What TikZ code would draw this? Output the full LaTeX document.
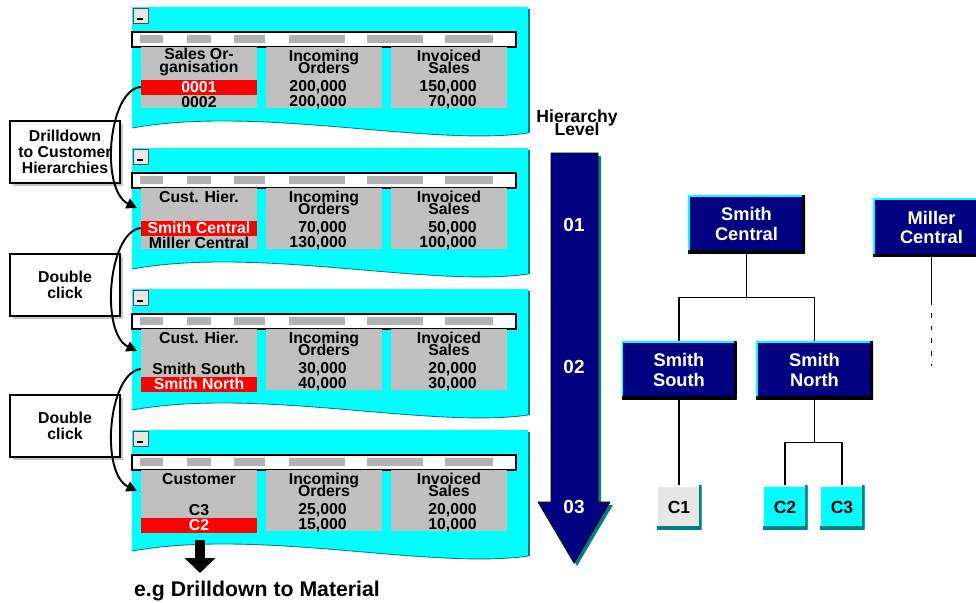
\documentclass[tikz,border=0pt]{standalone}
\usepackage{fontspec}
\setmainfont{Liberation Sans}
\usetikzlibrary{arrows.meta,shadows}

\definecolor{panelcyan}{HTML}{00FFFF}
\definecolor{levelnavy}{HTML}{000080}
\definecolor{shadeteal}{HTML}{008080}
\definecolor{colgray}{HTML}{C0C0C0}
\definecolor{dashgray}{HTML}{B2B2B2}
\definecolor{cellred}{HTML}{FF0000}
\definecolor{leafgray}{HTML}{E6E6E6}

\protected\def\tightlead{\lineskiplimit=-100pt\relax}

\tikzset{
  txt/.style={font=\bfseries\fontsize{9}{7.2}\selectfont\tightlead, inner sep=0pt, align=center},
  row/.style={txt, minimum width=2.32cm, minimum height=0.3cm},
  hot/.style={row, fill=cellred, text=white},
  val/.style={txt, anchor=east},
  note/.style={draw, line width=0.8pt, fill=white, minimum width=2.2cm, minimum height=1.24cm,
    align=center, inner sep=0pt, font=\bfseries\fontsize{9}{9}\selectfont,
    drop shadow={shadow xshift=1.5pt, shadow yshift=-1.5pt, fill=gray!45, opacity=1}},
  jump/.style={line width=1.1pt, -{Triangle[length=6pt,width=6pt]}},
  lvl/.style={text=white, font=\bfseries\fontsize{10.8}{12}\selectfont, inner sep=0pt},
  tree/.style={fill=levelnavy, text=white, font=\bfseries\fontsize{10.4}{11.3}\selectfont,
    align=center, minimum width=2.34cm, minimum height=1.16cm, inner sep=0pt,
    path picture={
      \draw[panelcyan, line width=2pt] (path picture bounding box.south west) |- (path picture bounding box.north east);
      \draw[black, line width=3pt] (path picture bounding box.south west) -| (path picture bounding box.north east);
    }},
  leaf/.style={font=\bfseries\fontsize{10}{12}\selectfont, minimum width=0.9cm, minimum height=0.88cm, inner sep=0pt,
    path picture={
      \draw[white, line width=2pt] (path picture bounding box.south west) |- (path picture bounding box.north east);
      \draw[shadeteal, line width=3pt] (path picture bounding box.south west) -| (path picture bounding box.north east);
    }},
  link/.style={line width=0.85pt},
  dotline/.style={line width=0.85pt, dash pattern=on 2.8pt off 4.5pt},
}

\begin{document}
\begin{tikzpicture}[x=0.02cm,y=-0.02cm]
\clip (0,0) rectangle (976,602);

\foreach \t in {7,148,289,430}{
  \fill[panelcyan] (132,\t) -- (528,\t) -- (528,\t+126) .. controls (430,\t+140) and (260,\t+98) .. (132,\t+121) -- cycle;
  \draw[shadeteal, line width=0.5pt] (528,\t+126) .. controls (430,\t+140) and (260,\t+98) .. (132,\t+121);
  \draw[shadeteal, line width=1.2pt] (529,\t+2) -- (529,\t+126);
  \filldraw[fill=leafgray, draw=black!70, line width=0.4pt] (133,\t+1) rectangle (148,\t+16);
  \draw[line width=0.6pt] (137,\t+12) -- (143,\t+12);
  \filldraw[fill=white, line width=0.9pt] (132,\t+25) rectangle (516,\t+40);
  \foreach \a/\b in {140/163,187/211,234/265,289/345,367/423,445/493}
    \fill[dashgray] (\a,\t+28) rectangle (\b,\t+36);
  \foreach \a in {141,266,391}
    \fill[colgray] (\a,\t+40) rectangle (\a+116,\t+101);
}

\node[txt] (h11) at (199,62) {Sales Or-\\ganisation};
\node[txt] (h12) at (324,62) {Incoming\\Orders};
\node[txt] (h13) at (449,62) {Invoiced\\Sales};
\node[hot] (r11) at (199,87) {0001};
\node[row] (r12) at (199,102) {0002};
\node[val] (v11) at (347,87) {200,000};
\node[val] (v12) at (347,102) {200,000};
\node[val] (w11) at (477,87) {150,000};
\node[val] (w12) at (477,102) {70,000};

\node[txt] (h21) at (199,197) {Cust. Hier.};
\node[txt] (h22) at (324,203) {Incoming\\Orders};
\node[txt] (h23) at (449,203) {Invoiced\\Sales};
\node[hot] (r21) at (199,228) {Smith Central};
\node[row] (r22) at (199,243) {Miller Central};
\node[val] (v21) at (347,228) {70,000};
\node[val] (v22) at (347,243) {130,000};
\node[val] (w21) at (477,228) {50,000};
\node[val] (w22) at (477,243) {100,000};

\node[txt] (h31) at (199,338) {Cust. Hier.};
\node[txt] (h32) at (324,344) {Incoming\\Orders};
\node[txt] (h33) at (449,344) {Invoiced\\Sales};
\node[row] (r31) at (199,369) {Smith South};
\node[hot] (r32) at (199,384) {Smith North};
\node[val] (v31) at (347,369) {30,000};
\node[val] (v32) at (347,384) {40,000};
\node[val] (w31) at (477,369) {20,000};
\node[val] (w32) at (477,384) {30,000};

\node[txt] (h41) at (199,479) {Customer};
\node[txt] (h42) at (324,485) {Incoming\\Orders};
\node[txt] (h43) at (449,485) {Invoiced\\Sales};
\node[row] (r41) at (199,510) {C3};
\node[hot] (r42) at (199,525) {C2};
\node[val] (v41) at (347,510) {25,000};
\node[val] (v42) at (347,525) {15,000};
\node[val] (w41) at (477,510) {20,000};
\node[val] (w42) at (477,525) {10,000};

\node[note] (n1) at (65,152) {Drilldown\\to Customer\\Hierarchies};
\node[note] (n2) at (65,285) {Double\\click};
\node[note] (n3) at (65,426) {Double\\click};

\coordinate (in2) at (137,208);
\coordinate (in3) at (137,351);
\coordinate (in4) at (137,491);
\draw[jump] (r11.west) .. controls (108,90) and (100,190) .. (in2);
\draw[jump] (r21.west) .. controls (108,232) and (100,333) .. (in3);
\draw[jump] (r31.west) .. controls (108,373) and (100,473) .. (in4);

\coordinate (dn1) at (200,540);
\coordinate (dn2) at (200,573);
\node[font=\bfseries\fontsize{12.1}{14}\selectfont, inner sep=0pt] (mat) at (257,591) {e.g Drilldown to Material};
\draw[line width=5.6pt, -{Triangle[length=8.5pt,width=17pt]}] (dn1) -- (dn2);

\node[font=\bfseries\fontsize{10}{7.5}\selectfont\tightlead, align=center, inner sep=0pt] (hl) at (577,123) {Hierarchy\\Level};
\fill[shadeteal] (554,156) -- (601,156) -- (601,505) -- (613,505) -- (577,566) -- (541,505) -- (554,505) -- cycle;
\filldraw[fill=levelnavy, draw=black, line width=0.4pt] (551,153) -- (598,153) -- (598,502) -- (610,502) -- (574,563) -- (538,502) -- (551,502) -- cycle;
\node[lvl] (l1) at (574,225) {01};
\node[lvl] (l2) at (574,367) {02};
\node[lvl] (l3) at (574,507) {03};

\node[tree] (sc) at (746.5,224) {Smith\\Central};
\node[tree] (mc) at (931.5,227.5) {Miller\\Central};
\node[tree, minimum width=2.3cm] (ss) at (679,370) {Smith\\South};
\node[tree] (sn) at (814.5,370) {Smith\\North};
\node[leaf, fill=leafgray] (c1) at (679,507) {C1};
\node[leaf, fill=panelcyan] (c2) at (785,507) {C2};
\node[leaf, fill=panelcyan] (c3) at (842,507) {C3};

\draw[link] (sc.south) -- ++(0,44) coordinate (j1);
\draw[link] (ss.north) |- (j1) -| (sn.north);
\draw[link] (ss.south) -- (c1.north);
\draw[link] (sn.south) -- ++(0,43) coordinate (j2);
\draw[link] (c2.north) |- (j2) -| (c3.north);
\coordinate (mend) at (931.5,366);
\draw[link] (mc.south) -- ++(0,43) coordinate (j3);
\draw[dotline] (j3) -- (mend);

\end{tikzpicture}
\end{document}
